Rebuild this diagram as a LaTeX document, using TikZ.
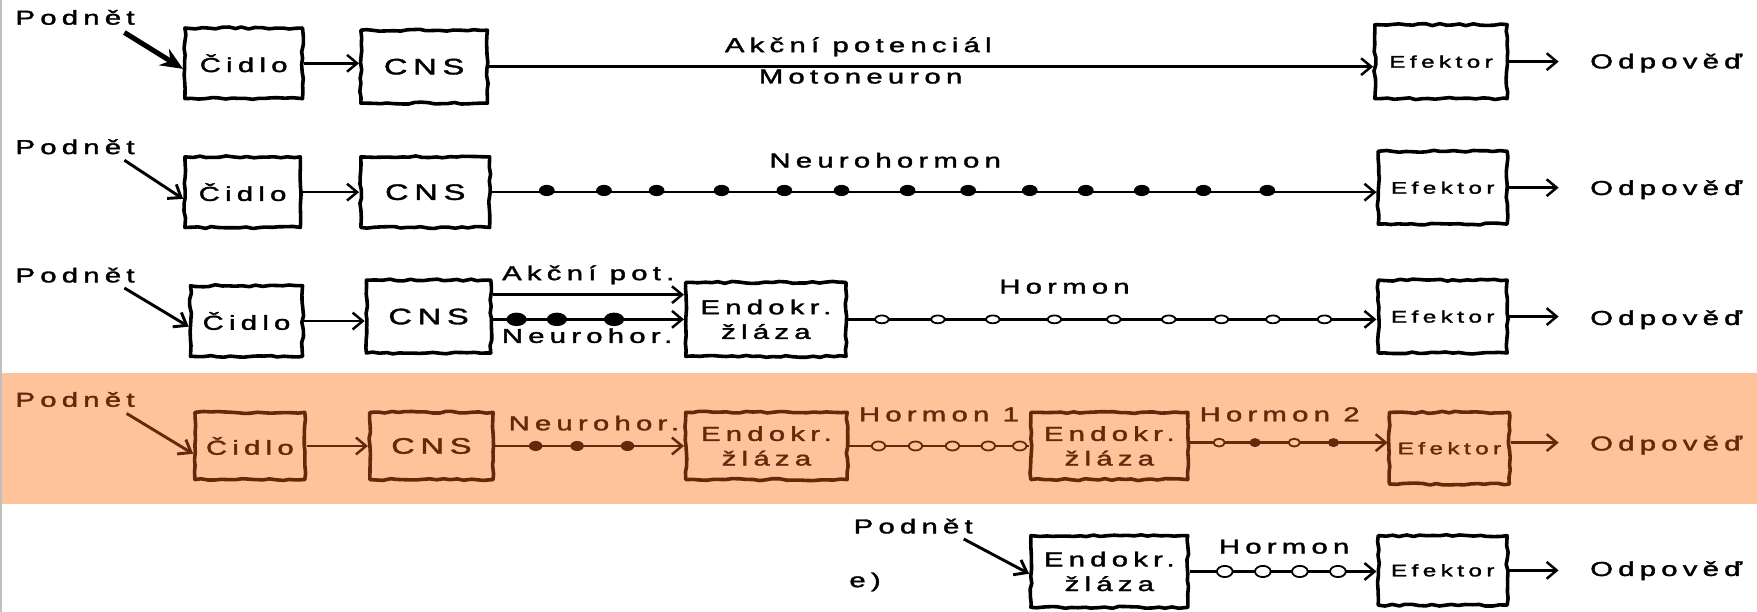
\documentclass[tikz,border=0pt]{standalone}
\usepackage{fontspec}
\setmainfont{Liberation Sans}[LetterSpace=18,FakeBold=1.5]
\usetikzlibrary{arrows.meta,decorations.pathmorphing}
\definecolor{peach}{RGB}{255,195,155}
\definecolor{brn}{RGB}{100,40,10}
\newcommand{\sx}[1]{\scalebox{1.45}[1]{#1}}
\pgfmathsetseed{7}
\tikzset{
  lab/.style={inner sep=0pt, anchor=base, font=\fontsize{18}{22}\selectfont},
  box/.style={draw, line width=3.2pt, line join=round, inner sep=0pt, align=center,
    decorate, decoration={random steps, segment length=6pt, amplitude=0.9pt},
    font=\fontsize{18}{22}\selectfont},
  cns/.style={box, font=\fontsize{20}{22}\selectfont},
  eff/.style={box, font=\fontsize{15}{18}\selectfont},
  con/.style={line width=2.2pt, -{Straight Barb[length=9pt,width=15pt]}},
  plain/.style={line width=2.2pt},
  big/.style={line width=4.5pt, -{Stealth[length=20pt,width=17pt]}},
  pod/.style={line width=2.6pt, -{Straight Barb[length=10pt,width=15pt]}},
}
\begin{document}
\begin{tikzpicture}[x=1pt,y=-1pt]
\useasboundingbox (0,0) rectangle (1568,546);
\fill[peach] (0,333) rectangle (1568,450);
\draw[gray!50, line width=1.5pt] (0.75,0) -- (0.75,546);

% ---------- row a ----------
\node[lab] (p1) at (67,22) {\sx{Podnět}};
\coordinate (p1s) at (111,29);
\node[box, minimum width=105pt, minimum height=63pt] (c1) at (217.5,56.5) {\sx{Čidlo}};
\node[cns, minimum width=113pt, minimum height=65pt] (n1) at (378.5,59.5) {\sx{CNS}};
\node[eff, minimum width=118pt, minimum height=66pt] (e1) at (1286,55) {\sx{Efektor}};
\node[lab] (o1) at (1487,61) {\sx{Odpověď}};
\node[lab] (t1a) at (766,46.5) {\sx{Akční potenciál}};
\node[lab] (t1b) at (768,74.5) {\sx{Motoneuron}};
\draw[big] (p1s) -- ([yshift=-5pt]c1.west);
\draw[con] (c1.east) -- (c1.east -| n1.west);
\draw[con] (n1.east) -- (n1.east -| e1.west);
\draw[con, shorten >=28pt] (e1.east) -- (e1.east -| o1.west);

% ---------- row b ----------
\node[lab] (p2) at (67,137.5) {\sx{Podnět}};
\coordinate (p2s) at (111,143);
\node[box, minimum width=103pt, minimum height=63pt] (c2) at (216.5,171.5) {\sx{Čidlo}};
\node[cns, minimum width=115pt, minimum height=63pt] (n2) at (379.5,171.5) {\sx{CNS}};
\node[eff, minimum width=115pt, minimum height=65pt] (e2) at (1287.5,167.5) {\sx{Efektor}};
\node[lab] (o2) at (1487,174) {\sx{Odpověď}};
\node[lab] (t2) at (790,149.5) {\sx{Neurohormon}};
\draw[pod] (p2s) -- ([yshift=-6pt]c2.west);
\draw[con] (c2.east) -- (c2.east -| n2.west);
\draw[con] (n2.east) -- (n2.east -| e2.west);
\foreach \x in {488,539,586,644,700,751,810,864,919,969,1019,1074,1131}
  \fill (\x,170) ellipse [x radius=7pt, y radius=5pt];
\draw[con, shorten >=28pt] (e2.east) -- (e2.east -| o2.west);

% ---------- row c ----------
\node[lab] (p3) at (67,252) {\sx{Podnět}};
\coordinate (p3s) at (111,257);
\node[box, minimum width=100pt, minimum height=63pt] (c3) at (220,286.5) {\sx{Čidlo}};
\node[cns, minimum width=111pt, minimum height=65pt] (n3) at (382.5,282.5) {\sx{CNS}};
\node[box, minimum width=143pt, minimum height=66pt] (g3) at (683.5,285) {\sx{Endokr.}\\\sx{žláza}};
\node[eff, minimum width=115pt, minimum height=65pt] (e3) at (1287.5,282.5) {\sx{Efektor}};
\node[lab] (o3) at (1487,290) {\sx{Odpověď}};
\node[lab] (t3a) at (525,250) {\sx{Akční pot.}};
\node[lab] (t3b) at (524,306) {\sx{Neurohor.}};
\node[lab] (t3c) at (950,262) {\sx{Hormon}};
\draw[pod] (p3s) -- ([yshift=-5pt]c3.west);
\draw[con] (c3.east) -- (c3.east -| n3.west);
\draw[con] ([yshift=19.5pt]n3.east) -- ([yshift=19.5pt]n3.east -| g3.west);
\draw[con] ([yshift=-2.5pt]n3.east) -- ([yshift=-2.5pt]n3.east -| g3.west);
\foreach \x in {461,497,548}
  \fill (\x,285) ellipse [x radius=9pt, y radius=6pt];
\draw[con] (g3.east) -- (g3.east -| e3.west);
\foreach \x in {787,837,886,941,994,1043,1090,1136,1182}
  \filldraw[fill=white, line width=1.6pt] (\x,285) ellipse [x radius=6pt, y radius=3.5pt];
\draw[con, shorten >=28pt] (e3.east) -- (e3.east -| o3.west);

% ---------- row d (highlighted) ----------
\begin{scope}[color=brn]
\node[lab] (p4) at (67,363) {\sx{Podnět}};
\coordinate (p4s) at (113,369);
\node[box, minimum width=98pt, minimum height=60pt] (c4) at (223,398) {\sx{Čidlo}};
\node[cns, minimum width=110pt, minimum height=60pt] (n4) at (385,398) {\sx{CNS}};
\node[box, minimum width=144pt, minimum height=60pt] (g4) at (684,398) {\sx{Endokr.}\\\sx{žláza}};
\node[box, minimum width=140pt, minimum height=60pt] (h4) at (990,398) {\sx{Endokr.}\\\sx{žláza}};
\node[eff, minimum width=107pt, minimum height=64pt] (e4) at (1293.5,400) {\sx{Efektor}};
\node[lab] (o4) at (1487,402) {\sx{Odpověď}};
\node[lab] (t4a) at (530,384) {\sx{Neurohor.}};
\node[lab] (t4b) at (838,376) {\sx{Hormon 1}};
\node[lab] (t4c) at (1142,376) {\sx{Hormon 2}};
\draw[pod] (p4s) -- ([yshift=-7pt]c4.west);
\draw[con] (c4.east) -- (c4.east -| n4.west);
\draw[con] (n4.east) -- (n4.east -| g4.west);
\foreach \x in {478,515,560}
  \fill (\x,398) ellipse [x radius=6pt, y radius=4.5pt];
\draw[plain] (g4.east) -- (g4.east -| h4.west);
\foreach \x in {784,817,850,882,910}
  \filldraw[fill=peach, line width=1.6pt] (\x,398) ellipse [x radius=6pt, y radius=4pt];
\draw[con] ([yshift=3pt]h4.east) -- ([yshift=3pt]h4.east -| e4.west);
\foreach \x in {1088,1155}
  \filldraw[fill=peach, line width=1.6pt] (\x,395) ellipse [x radius=5pt, y radius=3.5pt];
\foreach \x in {1120,1190}
  \fill (\x,395) ellipse [x radius=5pt, y radius=4pt];
\draw[con, shorten >=28pt] ([yshift=5pt]e4.east) -- ([yshift=5pt]e4.east -| o4.west);
\end{scope}

% ---------- row e ----------
\node[lab] (p5) at (815,476) {\sx{Podnět}};
\coordinate (p5s) at (860,481);
\node[lab] (lbl) at (772,524) {\sx{e)}};
\node[box, minimum width=140pt, minimum height=64pt] (g5) at (990,510) {\sx{Endokr.}\\\sx{žláza}};
\node[eff, minimum width=115pt, minimum height=62pt] (e5) at (1287.5,509) {\sx{Efektor}};
\node[lab] (o5) at (1487,514) {\sx{Odpověď}};
\node[lab] (t5) at (1146,494) {\sx{Hormon}};
\draw[pod] (p5s) -- ([yshift=-2pt]g5.west);
\draw[con] (g5.east) -- (g5.east -| e5.west);
\foreach \x in {1093,1127,1160,1194}
  \filldraw[fill=white, line width=1.6pt] (\x,510) ellipse [x radius=7pt, y radius=5pt];
\draw[con, shorten >=28pt] (e5.east) -- (e5.east -| o5.west);
\end{tikzpicture}
\end{document}
